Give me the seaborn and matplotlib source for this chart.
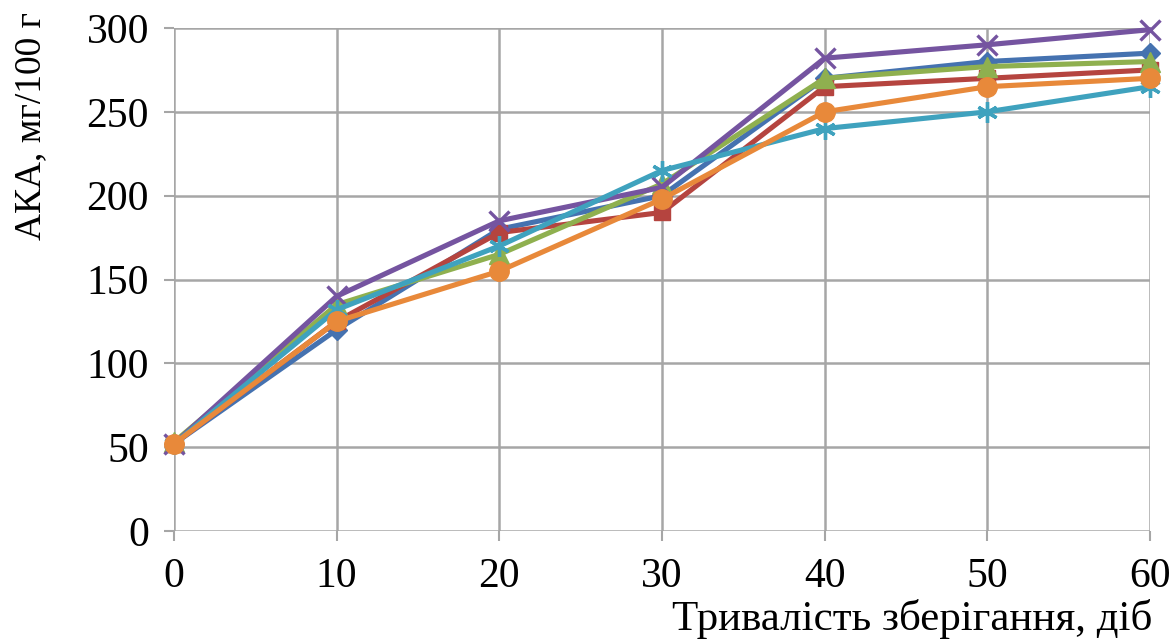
import numpy as np
import pandas as pd
import matplotlib
matplotlib.use("Agg")
import matplotlib.pyplot as plt
import seaborn as sns

days = [0, 10, 20, 30, 40, 50, 60]
s1 = [52, 120, 180, 200, 270, 280, 285]   # blue diamond
s2 = [52, 125, 178, 190, 265, 270, 275]   # red square
s3 = [53, 135, 165, 207, 270, 277, 280]   # green triangle
s4 = [52, 140, 185, 205, 282, 290, 299]   # purple x
s5 = [52, 132, 170, 215, 240, 250, 265]   # teal star
s6 = [52, 125, 155, 198, 250, 265, 270]   # orange circle

names = ["Зразок 1", "Зразок 2", "Зразок 3", "Зразок 4", "Зразок 5", "Зразок 6"]
series = [s1, s2, s3, s4, s5, s6]
colors = ["#4572B0", "#B5443F", "#8FB04F", "#7554A0", "#3FA2BE", "#E8893A"]
markers = ["D", "s", "^", "x", (6, 2, 0), "o"]
msizes = [10, 11, 14, 14, 15, 14]
mews = [1, 1, 1, 2.4, 2.4, 1]

df = pd.DataFrame({
    "day": np.tile(days, len(names)),
    "val": np.concatenate(series),
    "name": np.repeat(names, len(days)),
})

sns.set_theme(style="white")
plt.rcParams["font.family"] = ["Liberation Serif", "DejaVu Serif"]

fig = plt.figure(figsize=(11.74, 6.40), dpi=100)
ax = fig.add_axes([174/1174, 1 - 531/640, (1150-174)/1174, (531-28)/640])

for n, c, m, ms, mew in zip(names, colors, markers, msizes, mews):
    sub = df[df["name"] == n]
    sns.lineplot(data=sub, x="day", y="val", ax=ax, color=c, linewidth=3.7,
                 marker=m, markersize=ms, markeredgecolor=c, markeredgewidth=mew,
                 legend=False, zorder=3)

ax.set_xlim(0, 60)
ax.set_ylim(0, 300)
ax.set_xticks(days)
ax.set_yticks(range(0, 301, 50))
ax.grid(True, color="#A6A6A6", linewidth=1.8)
for s in ax.spines.values():
    s.set_visible(False)
ax.tick_params(axis="both", labelsize=30, length=7, width=1.5, color="#A6A6A6",
               labelcolor="black", direction="out")
ax.tick_params(axis="x", pad=12)
ax.tick_params(axis="y", pad=11)
ax.xaxis.set_ticks_position("bottom")
ax.yaxis.set_ticks_position("left")
for l in ax.lines:
    l.set_clip_on(False)

ax.set_xlabel("Тривалість зберігання, діб", fontsize=31, color="black")
ax.set_ylabel("АКА, мг/100 г", fontsize=27, color="black")
ax.xaxis.set_label_coords(1152/1174, 1 - 630/640, transform=fig.transFigure)
ax.xaxis.label.set_ha("right")
ax.xaxis.label.set_va("baseline")
ax.yaxis.set_label_coords(31/1174, 1 - 126/640, transform=fig.transFigure)
ax.yaxis.label.set_ha("center")
ax.yaxis.label.set_va("center")

fig.savefig("out.png", dpi=100)
